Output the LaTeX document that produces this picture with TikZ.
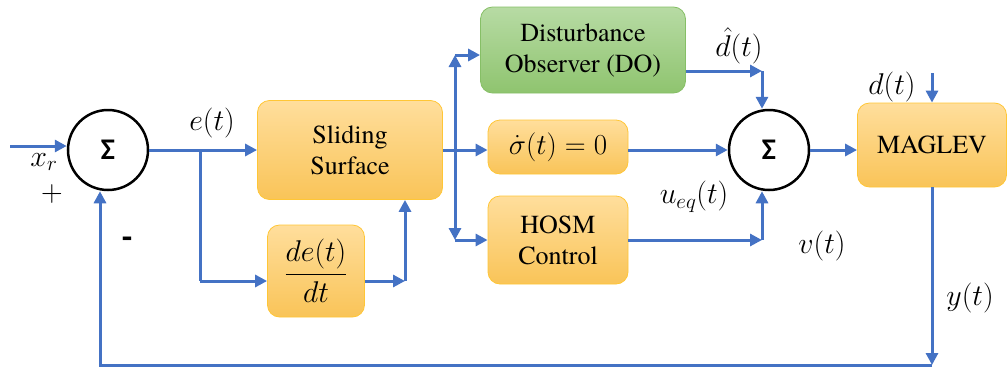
\RequirePackage{fix-cm}
\documentclass[tikz,border=0pt]{standalone}
\usepackage{fontspec}
\newfontfamily\boxfont{texgyretermes-regular.otf}
\newfontfamily\sigfont{Carlito}
\usetikzlibrary{arrows.meta,calc}
\definecolor{flow}{HTML}{4472C4}
\definecolor{orT}{HTML}{FFDE9C}
\definecolor{orB}{HTML}{F9C458}
\definecolor{orD}{HTML}{FFC636}
\definecolor{grT}{HTML}{B7DBA4}
\definecolor{grB}{HTML}{8FC46F}
\definecolor{grD}{HTML}{86BF66}
\tikzset{
  arr/.style={draw=flow,line width=3pt,-{Triangle[length=12pt,width=12pt]}},
  ln/.style={draw=flow,line width=3pt},
  obox/.style={rounded corners=12pt,draw=orD,line width=0.8pt,top color=orT,bottom color=orB,align=center,inner sep=0pt,font=\boxfont\fontsize{26}{31}\selectfont},
  gbox/.style={rounded corners=12pt,draw=grD,line width=0.8pt,top color=grT,bottom color=grB,align=center,inner sep=0pt,font=\boxfont\fontsize{26}{31}\selectfont},
  sumc/.style={circle,draw=black,line width=2.5pt,minimum size=80pt,inner sep=0pt,font=\sigfont\bfseries\fontsize{30}{32}\selectfont},
  lab/.style={inner sep=0pt,font=\fontsize{30}{34}\selectfont}
}
\begin{document}
\begin{tikzpicture}[x=1pt,y=-1pt]
\useasboundingbox (0,0) rectangle (1007,370);
% blocks
\node[sumc] (S1) at (108,150) {Σ};
\node[sumc] (S2) at (769,150) {Σ};
\node[obox,minimum width=185pt,minimum height=99pt] (SS) at (350,150) {Sliding\\Surface};
\node[obox,minimum width=97pt,minimum height=92pt,font=\fontsize{30}{32}\selectfont] (DD) at (316,271) {$\displaystyle\frac{de(t)}{dt}$};
\node[gbox,minimum width=205pt,minimum height=86pt] (DO) at (583,50) {Disturbance\\Observer (DO)};
\node[obox,minimum width=140pt,minimum height=54pt,font=\fontsize{29}{31}\selectfont] (SG) at (558,147) {$\dot{\sigma}(t)=0$};
\node[obox,minimum width=140pt,minimum height=88pt] (HO) at (558,240) {HOSM\\Control};
\node[obox,minimum width=149pt,minimum height=84pt] (MG) at (932,145) {MAGLEV};
% coordinates
\coordinate (xin) at (10,146);
\coordinate (br1) at (200,150);
\coordinate (ddy) at (0,281);
\coordinate (ddout) at (405,281);
\coordinate (br2) at (455,150);
\coordinate (bt) at (455,55);
\coordinate (bb) at (455,240);
\coordinate (dtop) at (762,71);
\coordinate (dbot) at (762,240);
\coordinate (dtin) at (932,73);
\coordinate (fb1) at (932,365);
\coordinate (fb2) at (100,365);
% connectors
\draw[arr] (xin) -- (xin -| S1.west);
\draw[arr] (S1.east) -- (SS.west);
\draw[ln] (br1) -- (br1 |- ddy);
\draw[arr] (br1 |- ddy) -- (DD.west |- ddy);
\draw[arr] (DD.east |- ddy) -- (ddout);
\draw[arr] (ddout) -- (ddout |- SS.south);
\draw[ln] (SS.east) -- (br2);
\draw[arr] (br2) -- (bt);
\draw[arr] (bt) -- (bt -| DO.west);
\draw[arr] (br2) -- (SG.west |- br2);
\draw[arr] (br2) -- (bb);
\draw[arr] (bb) -- (bb -| HO.west);
\draw[arr] (DO.east |- dtop) -- (dtop);
\draw[arr] (dtop) -- (dtop |- S2.north);
\draw[arr] (SG.east |- S2.west) -- (S2.west);
\draw[arr] (HO.east) -- (dbot);
\draw[arr] (dbot) -- (dbot |- S2.south);
\draw[arr] (S2.east) -- (S2.east -| MG.west);
\draw[arr] (dtin) -- (MG.north);
\draw[arr] (MG.south) -- (fb1);
\draw[arr] (fb1) -- (fb2) -- (fb2 |- S1.south);
% labels
\node[lab] (lxr) at (44,162) {$x_r$};
\node[lab] (lplus) at (52,194) {$+$};
\node[lab,font=\sigfont\bfseries\fontsize{34}{36}\selectfont] (lminus) at (127,243) {-};
\node[lab] (le) at (212,123) {$e(t)$};
\node[lab] (ldh) at (739,46) {$\hat{d}(t)$};
\node[lab] (ld) at (892,87) {$d(t)$};
\node[lab] (lu) at (694,197) {$u_{eq}(t)$};
\node[lab] (lv) at (822,246) {$v(t)$};
\node[lab] (ly) at (970,298) {$y(t)$};
\end{tikzpicture}
\end{document}
